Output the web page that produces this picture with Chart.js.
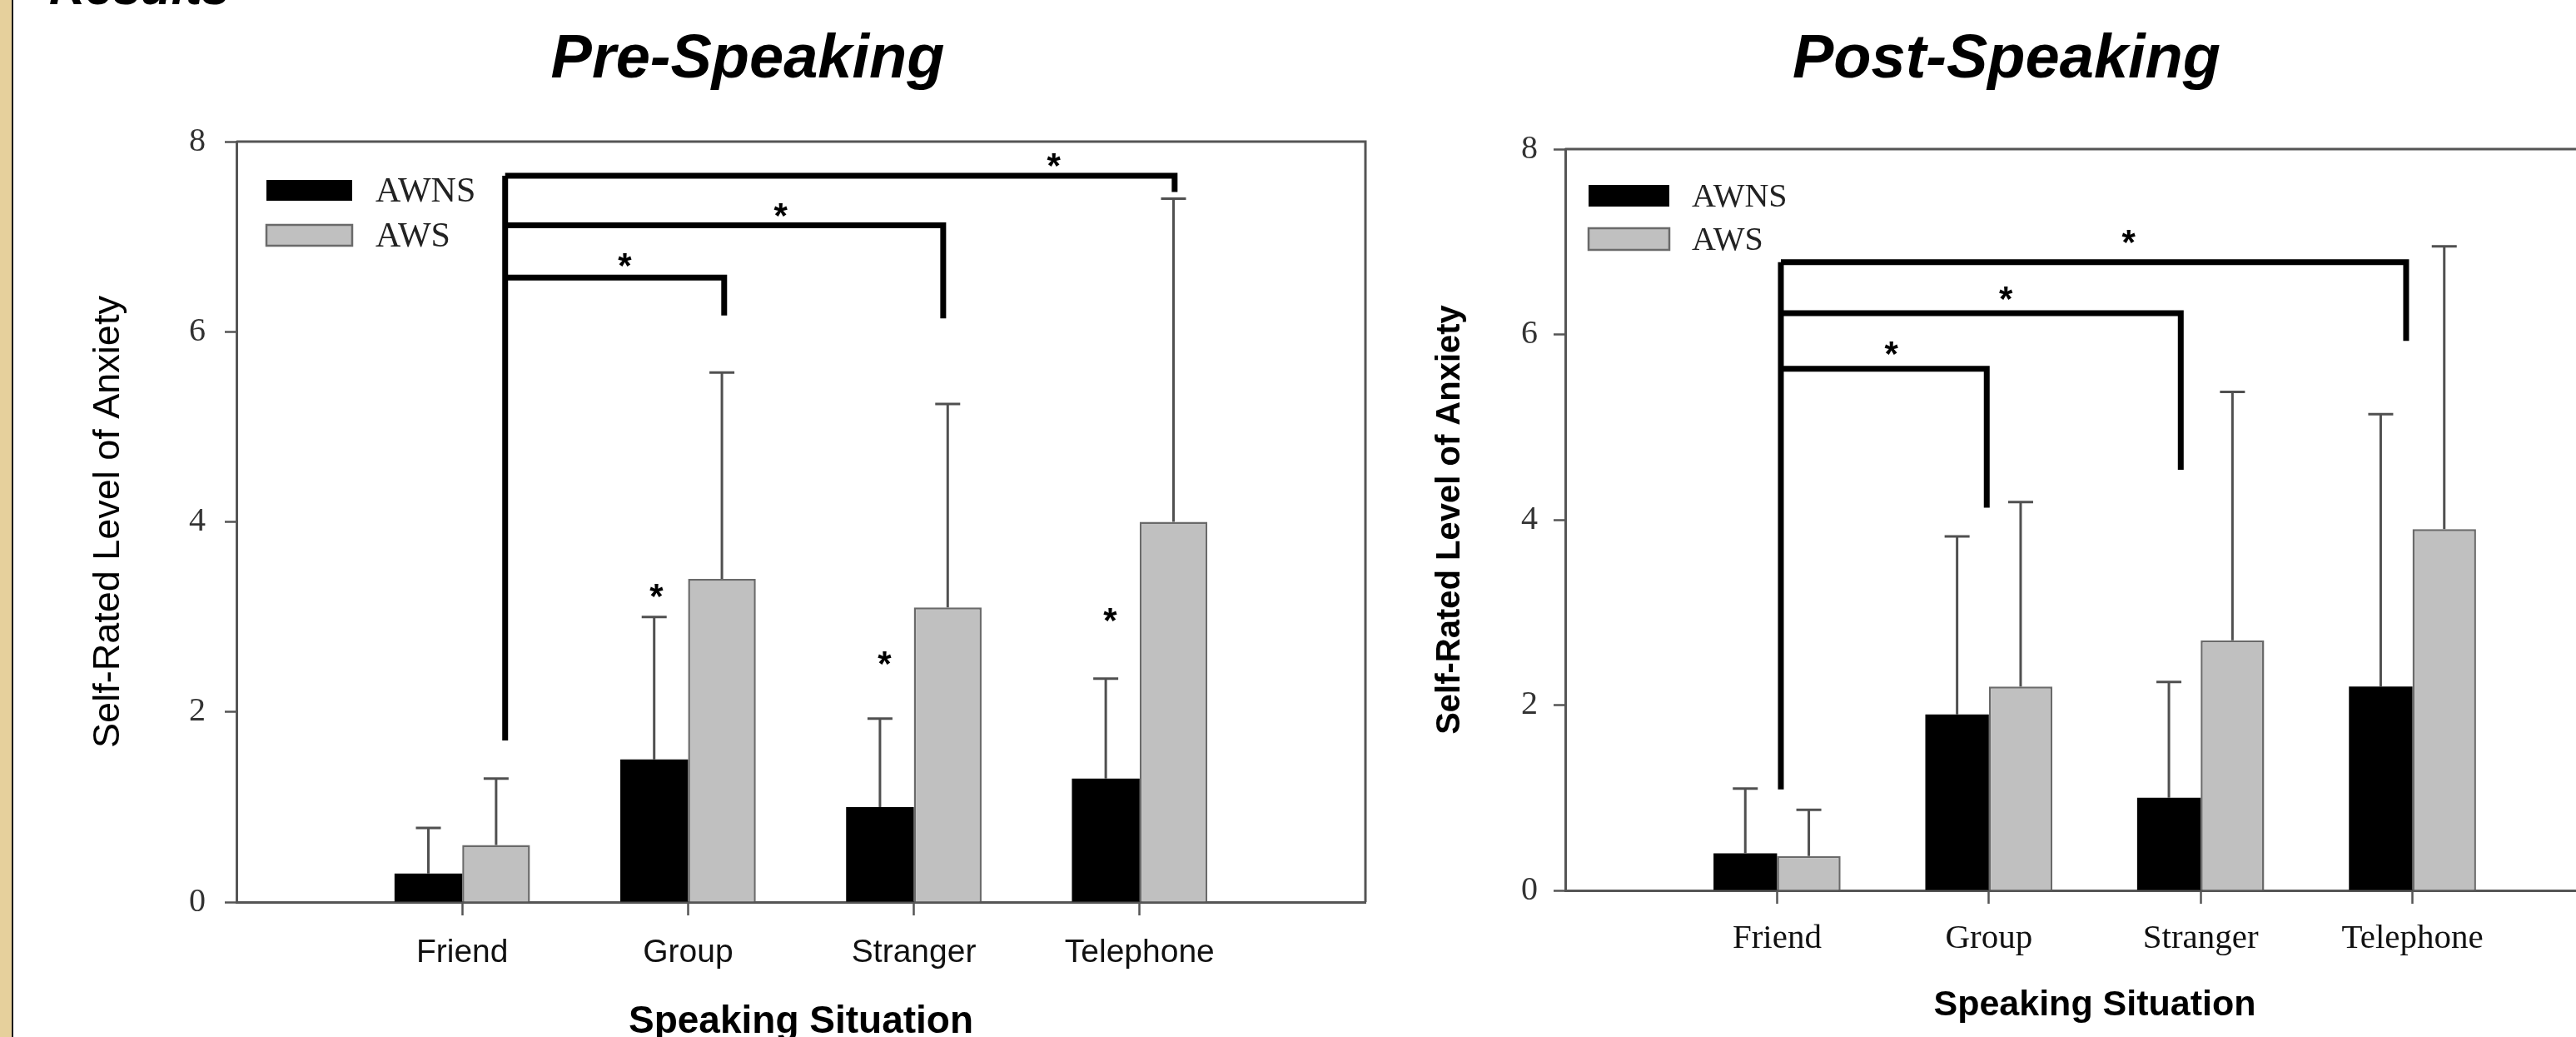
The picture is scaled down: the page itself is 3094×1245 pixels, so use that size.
<!DOCTYPE html>
<html>
<head>
<meta charset="utf-8">
<title>Self-Rated Level of Anxiety</title>
<script src="https://cdn.jsdelivr.net/npm/chart.js"></script>
<style>
  html, body { margin: 0; padding: 0; background: #fff; }
  body { width: 3094px; height: 1245px; overflow: hidden; position: relative; }
  #strip { position: absolute; left: 0; top: 0; width: 14px; height: 1245px; background: #e6d09c; border-right: 2px solid #1a1a1a; }
  canvas { position: absolute; top: 0; }
</style>
</head>
<body>
<div id="strip"></div>
<canvas id="pre" width="1700" height="1260" style="left:0"></canvas>
<canvas id="post" width="1550" height="1245" style="left:1650px"></canvas>
<script>
const categories = ['Friend', 'Group', 'Stranger', 'Telephone'];
const seriesNames = ['AWNS', 'AWS'];
const yTicks = [0, 2, 4, 6, 8];

// pre-speaking means + upper SD
const preAwns = [0.3, 1.5, 1.0, 1.3];
const preAwnsSd = [0.48, 1.5, 0.93, 1.05];
const preAws = [0.6, 3.4, 3.1, 4.0];
const preAwsSd = [0.7, 2.17, 2.14, 3.4];

// post-speaking means + upper SD
const postAwns = [0.4, 1.9, 1.0, 2.2];
const postAwnsSd = [0.7, 1.92, 1.25, 2.94];
const postAws = [0.37, 2.2, 2.7, 3.9];
const postAwsSd = [0.5, 1.99, 2.68, 3.05];

// brackets: [from x, to x, level, drop end] (x: Friend = 1 ... Telephone = 4)
const preBracketBase = 1.70;
const preBrackets = [[1.19, 4.155, 7.64, 7.47], [1.19, 3.13, 7.12, 6.14], [1.19, 2.16, 6.57, 6.17]];
const preStars = [[3.62, 7.83], [2.41, 7.31], [1.72, 6.78], [1.86, 3.30], [2.87, 2.59], [3.87, 3.05]];

const postBracketBase = 1.09;
const postBrackets = [[1.018, 3.97, 6.78, 5.93], [1.018, 2.906, 6.23, 4.54], [1.018, 1.99, 5.63, 4.13]];
const postStars = [[2.66, 7.08], [2.08, 6.47], [1.54, 5.88]];

const SANS = '"Liberation Sans", Arial, sans-serif';
const SERIF = '"Liberation Serif", "Times New Roman", serif';

const decor = {
  id: 'decor',
  afterDraw(chart, args, o) {
    const {ctx, chartArea: a, scales: {x, y}} = chart;
    ctx.save();

    // frame top + right
    ctx.strokeStyle = '#555';
    ctx.lineWidth = 3;
    ctx.beginPath();
    ctx.moveTo(a.left, a.top);
    ctx.lineTo(a.right, a.top);
    ctx.lineTo(a.right, a.bottom);
    ctx.stroke();

    // error bars (upper only)
    ctx.strokeStyle = '#505050';
    ctx.lineWidth = 3;
    chart.data.datasets.forEach((ds, i) => {
      chart.getDatasetMeta(i).data.forEach((bar, j) => {
        const top = y.getPixelForValue(ds.data[j].y + ds.err[j]);
        ctx.beginPath();
        ctx.moveTo(bar.x, bar.y);
        ctx.lineTo(bar.x, top);
        ctx.moveTo(bar.x - 15, top);
        ctx.lineTo(bar.x + 15, top);
        ctx.stroke();
      });
    });

    // significance brackets
    ctx.strokeStyle = '#000';
    ctx.lineWidth = 7;
    ctx.lineJoin = 'miter';
    const top = Math.max(...o.brackets.map(b => b[2]));
    ctx.beginPath();
    ctx.moveTo(x.getPixelForValue(o.brackets[0][0]), y.getPixelForValue(o.base));
    ctx.lineTo(x.getPixelForValue(o.brackets[0][0]), y.getPixelForValue(top));
    ctx.stroke();
    o.brackets.forEach(b => {
      ctx.beginPath();
      ctx.moveTo(x.getPixelForValue(b[0]), y.getPixelForValue(b[2]));
      ctx.lineTo(x.getPixelForValue(b[1]), y.getPixelForValue(b[2]));
      ctx.lineTo(x.getPixelForValue(b[1]), y.getPixelForValue(b[3]));
      ctx.stroke();
    });

    ctx.fillStyle = '#000';
    ctx.font = 'bold 42px ' + SANS;
    ctx.textAlign = 'center';
    ctx.textBaseline = 'alphabetic';
    o.stars.forEach(s => {
      ctx.fillText('*', x.getPixelForValue(s[0]), y.getPixelForValue(s[1]) + 24);
    });

    // legend
    const L = o.legend;
    ctx.font = L.font;
    ctx.textAlign = 'left';
    ctx.textBaseline = 'middle';
    chart.data.datasets.forEach((ds, i) => {
      const bx = a.left + L.x, by = a.top + L.y + i * L.gap;
      ctx.fillStyle = ds.backgroundColor;
      ctx.fillRect(bx, by, L.w, L.h);
      if (ds.borderWidth) {
        ctx.strokeStyle = ds.borderColor;
        ctx.lineWidth = 2.5;
        ctx.strokeRect(bx, by, L.w, L.h);
      }
      ctx.fillStyle = '#222';
      ctx.fillText(ds.label, bx + L.w + L.textGap, by + L.h / 2 + 2);
    });

    // headings
    ctx.fillStyle = '#000';
    ctx.textBaseline = 'alphabetic';
    o.headings.forEach(h => {
      ctx.font = h.font;
      ctx.textAlign = h.align;
      ctx.fillText(h.text, h.x, h.y);
    });
    ctx.restore();
  }
};

function makeChart(id, o) {
  const toXY = arr => arr.map((v, i) => ({x: i + 1, y: v}));
  return new Chart(document.getElementById(id), {
    type: 'bar',
    data: {
      datasets: [
        {label: seriesNames[0], data: toXY(o.awns), err: o.awnsSd, backgroundColor: '#000000',
         borderWidth: 0, categoryPercentage: 0.6, barPercentage: 1},
        {label: seriesNames[1], data: toXY(o.aws), err: o.awsSd, backgroundColor: '#c0c0c0',
         borderColor: '#6a6a6a', borderWidth: 2.5, categoryPercentage: 0.6, barPercentage: 1}
      ]
    },
    options: {
      responsive: false,
      animation: false,
      layout: {padding: o.padding},
      plugins: {
        legend: {display: false},
        tooltip: {enabled: false},
        decor: o.decor
      },
      scales: {
        x: {
          type: 'linear', min: 0, max: 5, offset: false,
          afterBuildTicks: s => { s.ticks = categories.map((c, i) => ({value: i + 1})); },
          afterFit: s => { s.height = o.xHeight; },
          grid: {offset: false, drawOnChartArea: false, tickLength: 16, tickColor: '#555', tickWidth: 2.5},
          border: {color: '#555', width: 3},
          ticks: {callback: v => categories[v - 1], font: o.xTickFont, color: '#111',
                  padding: o.xTickPad, maxRotation: 0, autoSkip: false},
          title: {display: true, text: 'Speaking Situation', font: o.xTitleFont, color: '#000',
                  padding: {top: 0, bottom: o.xTitlePad}}
        },
        y: {
          min: 0, max: 8,
          afterBuildTicks: s => { s.ticks = yTicks.map(v => ({value: v})); },
          afterFit: s => { s.width = o.yWidth; },
          grid: {drawOnChartArea: false, tickLength: 14, tickColor: '#555', tickWidth: 2.5},
          border: {color: '#555', width: 3},
          ticks: {font: o.yTickFont, color: '#333', padding: o.yTickPad},
          title: {display: true, text: 'Self-Rated Level of Anxiety', font: o.yTitleFont, color: '#000',
                  padding: {top: o.yTitlePad, bottom: 0}}
        }
      }
    },
    plugins: [decor]
  });
}

makeChart('pre', {
  awns: preAwns, awnsSd: preAwnsSd, aws: preAws, awsSd: preAwsSd,
  padding: {left: 84, top: 170, right: 60, bottom: 0},
  yWidth: 200, xHeight: 177,
  xTickFont: {family: SANS, size: 39}, xTickPad: 22,
  xTitleFont: {family: SANS, size: 46, weight: 'bold'}, xTitlePad: 5,
  yTickFont: {family: SERIF, size: 40}, yTickPad: 23,
  yTitleFont: {family: SANS, size: 45}, yTitlePad: 20,
  decor: {
    base: preBracketBase, brackets: preBrackets, stars: preStars,
    legend: {x: 36, y: 46, w: 103, h: 25, gap: 54, textGap: 28, font: '42px ' + SERIF},
    headings: [
      {text: 'Pre-Speaking', x: 898, y: 93, align: 'center', font: 'italic bold 74px ' + SANS},
      {text: 'Results', x: 59, y: 5, align: 'left', font: 'italic bold 60px ' + SANS}
    ]
  }
});

makeChart('post', {
  awns: postAwns, awnsSd: postAwnsSd, aws: postAws, awsSd: postAwsSd,
  padding: {left: 50, top: 179, right: 48, bottom: 0},
  yWidth: 180, xHeight: 176,
  xTickFont: {family: SERIF, size: 41}, xTickPad: 18,
  xTitleFont: {family: SANS, size: 43, weight: 'bold'}, xTitlePad: 12,
  yTickFont: {family: SERIF, size: 40}, yTickPad: 19,
  yTitleFont: {family: SANS, size: 40, weight: 'bold'}, yTitlePad: 18,
  decor: {
    base: postBracketBase, brackets: postBrackets, stars: postStars,
    legend: {x: 28, y: 43, w: 97, h: 26, gap: 52, textGap: 27, font: '40px ' + SERIF},
    headings: [
      {text: 'Post-Speaking', x: 760, y: 93, align: 'center', font: 'italic bold 74px ' + SANS}
    ]
  }
});
</script>
</body>
</html>
